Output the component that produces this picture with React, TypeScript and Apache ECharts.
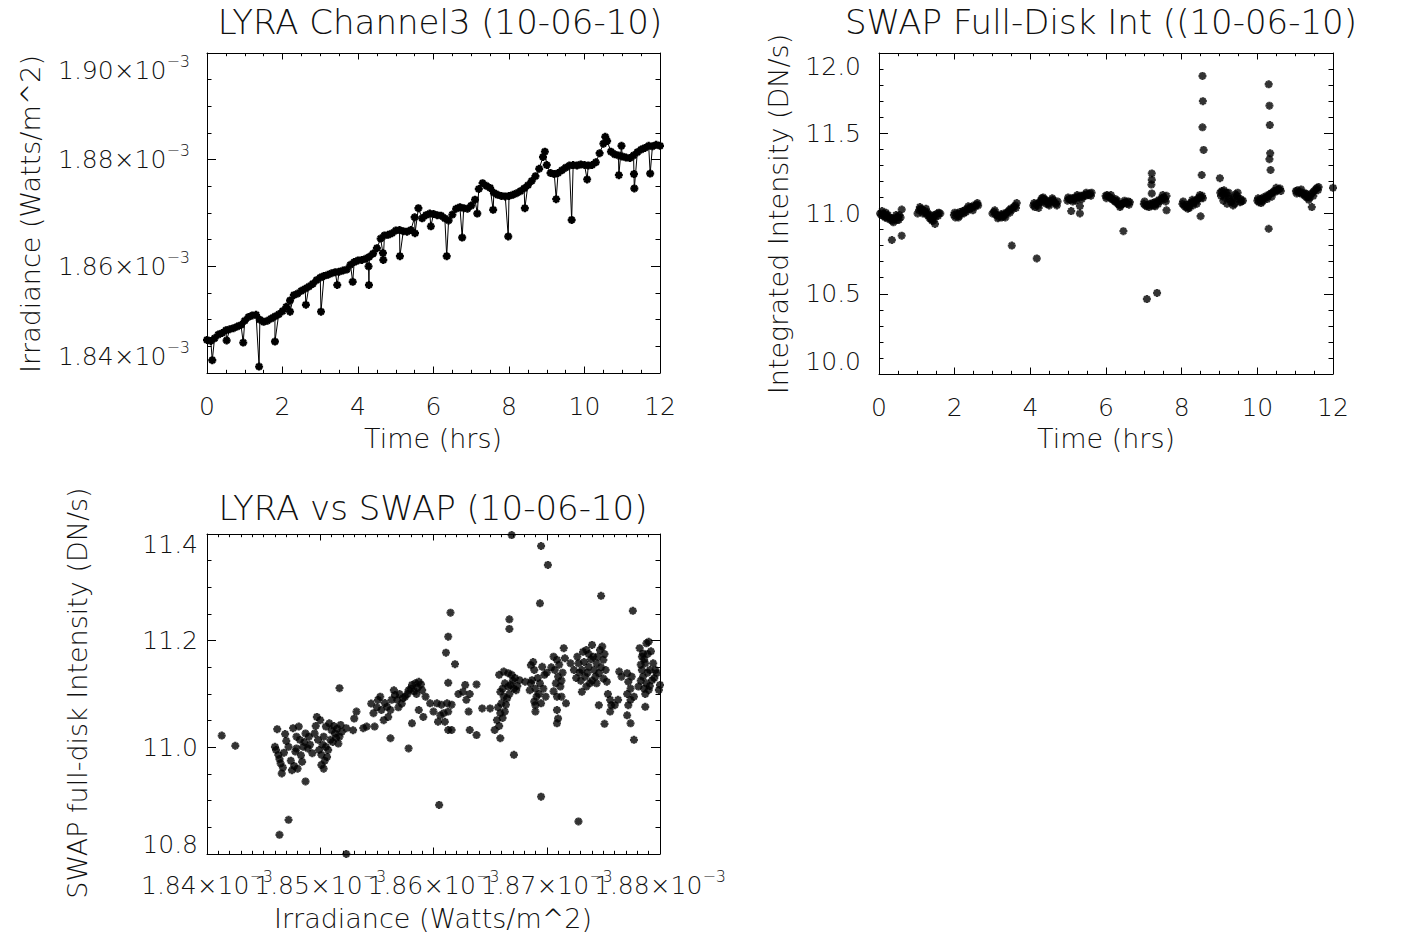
import React, { useEffect, useRef } from "react";
import * as echarts from "echarts";

// ---------- DATA ----------
// Panel 1: LYRA channel 3 irradiance (units of 1e-3 W/m^2) vs time (hrs)
const lyraTrend: [number, number][] = [
  [0.0, 1.8462], [0.1, 1.846], [0.2, 1.8465], [0.3, 1.8472], [0.4, 1.8475], [0.5, 1.848], [0.6, 1.8482], [0.7, 1.8484], [0.8, 1.8487], [0.9, 1.849],
  [1.0, 1.8498], [1.1, 1.8505], [1.2, 1.8508], [1.3, 1.8509], [1.4, 1.85], [1.5, 1.8496], [1.6, 1.8498], [1.7, 1.8502], [1.8, 1.8506], [1.9, 1.851],
  [2.0, 1.8516], [2.1, 1.8524], [2.2, 1.8536], [2.3, 1.8546], [2.4, 1.8549], [2.5, 1.8554], [2.6, 1.8558], [2.7, 1.8562], [2.8, 1.8567], [2.9, 1.8574],
  [3.0, 1.8579], [3.1, 1.8582], [3.2, 1.8584], [3.3, 1.8587], [3.4, 1.8589], [3.5, 1.859], [3.6, 1.8592], [3.7, 1.8594], [3.8, 1.8603], [3.9, 1.8608],
  [4.0, 1.8611], [4.1, 1.8612], [4.2, 1.8614], [4.3, 1.8618], [4.4, 1.8624], [4.5, 1.8634], [4.6, 1.8652], [4.7, 1.8658], [4.8, 1.8659], [4.9, 1.8662],
  [5.0, 1.8667], [5.1, 1.8668], [5.2, 1.8666], [5.3, 1.8665], [5.4, 1.8668], [5.5, 1.8692], [5.6, 1.8709], [5.7, 1.869], [5.8, 1.8696], [5.9, 1.8699],
  [6.0, 1.8698], [6.1, 1.8696], [6.2, 1.8695], [6.3, 1.869], [6.4, 1.8686], [6.5, 1.8697], [6.6, 1.8708], [6.7, 1.8711], [6.8, 1.8709], [6.9, 1.8708],
  [7.0, 1.8714], [7.1, 1.8725], [7.2, 1.8745], [7.3, 1.8756], [7.4, 1.8751], [7.5, 1.8747], [7.6, 1.8738], [7.7, 1.8734], [7.8, 1.8732], [7.9, 1.8731],
  [8.0, 1.8732], [8.1, 1.8734], [8.2, 1.8737], [8.3, 1.8741], [8.4, 1.8746], [8.5, 1.8752], [8.6, 1.876], [8.7, 1.8769], [8.8, 1.8783], [8.9, 1.8805], [8.95, 1.8815],
  [9.0, 1.879], [9.1, 1.8775], [9.2, 1.8773], [9.3, 1.8775], [9.4, 1.878], [9.5, 1.8785], [9.6, 1.8789], [9.7, 1.879], [9.8, 1.8789], [9.9, 1.8791],
  [10.0, 1.879], [10.1, 1.8789], [10.2, 1.879], [10.3, 1.8795], [10.4, 1.8812], [10.5, 1.883], [10.55, 1.8843], [10.6, 1.8835], [10.7, 1.8815], [10.8, 1.881], [10.9, 1.8808],
  [11.0, 1.8806], [11.1, 1.8804], [11.2, 1.8803], [11.3, 1.8808], [11.4, 1.8814], [11.5, 1.8819], [11.6, 1.8822], [11.7, 1.8826], [11.8, 1.8825], [11.9, 1.8828], [12.0, 1.8826],
];
const lyraDips: [number, number][] = [
  [0.14, 1.8424], [0.52, 1.8461], [0.96, 1.8457], [1.38, 1.8412], [1.8, 1.8459], [2.2, 1.8515], [2.62, 1.8528], [3.02, 1.8515],
  [3.45, 1.8565], [3.86, 1.8571], [4.28, 1.86], [4.29, 1.8565], [4.66, 1.8625], [4.67, 1.8612], [5.11, 1.8619], [5.51, 1.8662],
  [5.93, 1.8675], [6.35, 1.8619], [6.76, 1.8654], [7.16, 1.8699], [7.58, 1.8706], [7.98, 1.8656], [8.42, 1.8709], [9.25, 1.8726],
  [9.66, 1.8687], [10.07, 1.8763], [10.91, 1.8771], [10.98, 1.8826], [11.31, 1.8773], [11.32, 1.8746], [11.74, 1.8774],
];

// Panel 2: SWAP full-disk integrated intensity (DN/s) vs time (hrs)
const swapClusters: [number, number][] = [
  [0.03, 11.0], [0.06, 10.99], [0.1, 11.0], [0.12, 10.985], [0.15, 10.995], [0.18, 11.005], [0.2, 10.985], [0.24, 10.99], [0.27, 10.975], [0.3, 10.96], [0.33, 10.97], [0.36, 10.955], [0.4, 10.965], [0.44, 10.975], [0.47, 10.96], [0.5, 10.98], [0.54, 10.99], [0.57, 10.975],
  [1.02, 11.0], [1.06, 11.02], [1.1, 11.03], [1.14, 11.025], [1.18, 11.01], [1.22, 11.015], [1.26, 10.995], [1.3, 10.985], [1.34, 10.97], [1.38, 10.965], [1.42, 10.975], [1.46, 10.99], [1.5, 10.985], [1.54, 11.0], [1.58, 11.005], [1.62, 11.0], [1.28, 11.005], [1.4, 10.955],
  [1.98, 10.99], [2.02, 10.975], [2.06, 11.0], [2.1, 10.995], [2.14, 11.01], [2.18, 11.0], [2.22, 11.015], [2.26, 11.02], [2.3, 11.01], [2.34, 11.03], [2.38, 11.025], [2.42, 11.04], [2.46, 11.035], [2.5, 11.05], [2.54, 11.045], [2.58, 11.055], [2.62, 11.05], [2.1, 10.975],
  [3.0, 11.0], [3.04, 11.01], [3.08, 10.995], [3.12, 10.99], [3.16, 10.98], [3.2, 10.985], [3.24, 10.975], [3.28, 10.98], [3.32, 10.99], [3.36, 11.0], [3.4, 11.01], [3.44, 11.02], [3.48, 11.03], [3.52, 11.025], [3.56, 11.04], [3.6, 11.05], [3.64, 11.065], [3.3, 11.0],
  [4.08, 11.05], [4.12, 11.04], [4.16, 11.06], [4.2, 11.05], [4.24, 11.07], [4.28, 11.08], [4.32, 11.07], [4.36, 11.09], [4.4, 11.085], [4.44, 11.075], [4.48, 11.06], [4.52, 11.07], [4.56, 11.08], [4.6, 11.085], [4.64, 11.07], [4.68, 11.06], [4.72, 11.075], [4.3, 11.095], [4.5, 11.05],
  [4.98, 11.08], [5.02, 11.09], [5.06, 11.085], [5.1, 11.095], [5.14, 11.09], [5.18, 11.1], [5.22, 11.095], [5.26, 11.105], [5.3, 11.1], [5.34, 11.11], [5.38, 11.105], [5.42, 11.115], [5.46, 11.11], [5.5, 11.12], [5.54, 11.115], [5.58, 11.125], [5.62, 11.13], [5.2, 11.08],
  [5.99, 11.11], [6.03, 11.115], [6.07, 11.105], [6.11, 11.1], [6.15, 11.09], [6.19, 11.085], [6.23, 11.075], [6.27, 11.07], [6.31, 11.06], [6.35, 11.055], [6.39, 11.05], [6.43, 11.06], [6.47, 11.065], [6.51, 11.07], [6.55, 11.06], [6.59, 11.075], [6.63, 11.07], [6.3, 11.08],
  [7.0, 11.06], [7.04, 11.05], [7.08, 11.045], [7.12, 11.055], [7.16, 11.06], [7.2, 11.05], [7.24, 11.065], [7.28, 11.07], [7.32, 11.06], [7.36, 11.075], [7.4, 11.085], [7.44, 11.08], [7.48, 11.095], [7.52, 11.1], [7.56, 11.09], [7.6, 11.11], [7.3, 11.045],
  [8.02, 11.06], [8.06, 11.05], [8.1, 11.04], [8.14, 11.055], [8.18, 11.045], [8.22, 11.06], [8.26, 11.07], [8.3, 11.065], [8.34, 11.08], [8.38, 11.075], [8.42, 11.09], [8.46, 11.1], [8.5, 11.095], [8.54, 11.11], [8.2, 11.035], [8.3, 11.05],
  [9.02, 11.13], [9.06, 11.14], [9.1, 11.12], [9.14, 11.1], [9.18, 11.13], [9.22, 11.11], [9.26, 11.09], [9.3, 11.07], [9.34, 11.08], [9.38, 11.1], [9.42, 11.12], [9.46, 11.11], [9.5, 11.09], [9.54, 11.07], [9.58, 11.075], [9.62, 11.08], [9.2, 11.06], [9.4, 11.06], [9.1, 11.08],
  [10.0, 11.08], [10.04, 11.07], [10.08, 11.09], [10.12, 11.085], [10.16, 11.1], [10.2, 11.095], [10.24, 11.11], [10.28, 11.105], [10.32, 11.12], [10.36, 11.125], [10.4, 11.13], [10.44, 11.14], [10.48, 11.135], [10.52, 11.145], [10.56, 11.15], [10.6, 11.155], [10.1, 11.065],
  [11.02, 11.14], [11.06, 11.145], [11.1, 11.13], [11.14, 11.135], [11.18, 11.12], [11.22, 11.125], [11.26, 11.11], [11.3, 11.1], [11.34, 11.105], [11.38, 11.1], [11.42, 11.12], [11.46, 11.13], [11.5, 11.14], [11.54, 11.15], [11.58, 11.16], [11.62, 11.165], [11.3, 11.12],
  [12.0, 11.16],
];
const swapSpread: [number, number][] = [
  [0.08, 11.015], [0.22, 10.97], [0.38, 10.945], [0.45, 10.99], [0.52, 10.96], [0.16, 10.975],
  [1.08, 11.04], [1.16, 11.0], [1.24, 11.03], [1.36, 10.99], [1.44, 10.955], [1.56, 10.985],
  [2.0, 11.005], [2.12, 10.985], [2.24, 11.0], [2.36, 11.045], [2.48, 11.02], [2.6, 11.065],
  [3.06, 11.02], [3.14, 10.97], [3.22, 10.995], [3.34, 10.975], [3.46, 11.005], [3.62, 11.035],
  [4.1, 11.065], [4.22, 11.035], [4.34, 11.1], [4.42, 11.06], [4.58, 11.095], [4.7, 11.05],
  [5.0, 11.1], [5.12, 11.075], [5.24, 11.115], [5.36, 11.09], [5.48, 11.13], [5.6, 11.11],
  [6.01, 11.095], [6.13, 11.115], [6.25, 11.09], [6.37, 11.04], [6.49, 11.08], [6.61, 11.055],
  [7.02, 11.075], [7.14, 11.04], [7.26, 11.05], [7.38, 11.06], [7.5, 11.115], [7.58, 11.075],
  [8.04, 11.075], [8.16, 11.03], [8.28, 11.085], [8.4, 11.06], [8.48, 11.115], [8.56, 11.095],
  [9.04, 11.11], [9.12, 11.145], [9.24, 11.13], [9.36, 11.05], [9.48, 11.13], [9.56, 11.09],
  [10.02, 11.095], [10.14, 11.075], [10.26, 11.09], [10.38, 11.105], [10.5, 11.16], [10.62, 11.14],
  [11.04, 11.125], [11.16, 11.15], [11.28, 11.125], [11.36, 11.085], [11.48, 11.11], [11.6, 11.145],
];
const swapOutliers: [number, number][] = [
  [0.6, 11.025], [0.34, 10.835], [0.6, 10.862], [1.48, 10.935], [3.51, 10.8], [4.17, 10.72],
  [5.08, 11.015], [5.31, 11.0], [5.31, 11.046], [6.46, 10.89],
  [7.21, 11.25], [7.21, 11.21], [7.2, 11.18], [7.21, 11.125], [7.6, 11.02], [7.08, 10.467], [7.35, 10.505],
  [8.53, 11.24], [8.5, 10.983], [8.55, 11.857], [8.56, 11.7], [8.55, 11.537], [8.58, 11.396],
  [9.01, 11.22], [10.3, 11.805], [10.32, 11.672], [10.33, 11.551], [10.34, 11.375], [10.32, 11.338], [10.35, 11.271], [10.3, 10.905],
  [11.44, 11.04],
];

// Panel 3: LYRA irradiance (1e-3 W/m^2) vs SWAP intensity (DN/s)
const lyraVsSwap: [number, number][] = [
  [1.8413, 11.022], [1.8425, 11.003],
  [1.8462, 11.034], [1.846, 11.001], [1.8463, 10.986], [1.8465, 10.97], [1.8466, 10.951], [1.8475, 10.957], [1.8472, 11.001], [1.8476, 11.036], [1.8481, 11.039], [1.8478, 10.992], [1.8482, 11.014], [1.8485, 11.001], [1.8484, 10.973], [1.8487, 11.026], [1.849, 11.02], [1.8487, 10.936], [1.8493, 10.989],
  [1.8461, 10.995], [1.8464, 10.978], [1.8468, 10.99], [1.847, 11.012], [1.8474, 10.975], [1.8479, 11.02], [1.848, 10.96], [1.8483, 10.985], [1.8486, 11.01], [1.8489, 10.998], [1.8491, 11.005], [1.8467, 10.962], [1.8469, 11.025], [1.8477, 10.965], [1.8479, 10.998],
  [1.8464, 10.836], [1.8472, 10.864],
  [1.8497, 11.057], [1.85, 11.051], [1.8495, 11.026], [1.8503, 11.02], [1.8505, 11.001], [1.8501, 10.986], [1.8506, 10.982], [1.8509, 11.014], [1.8513, 11.026], [1.8518, 11.042], [1.8519, 11.029], [1.8516, 11.007], [1.851, 11.032], [1.8501, 10.967], [1.8505, 11.039], [1.8498, 11.014],
  [1.8499, 10.995], [1.8502, 11.005], [1.8504, 10.975], [1.8507, 10.995], [1.8508, 11.045], [1.8511, 11.01], [1.8512, 11.04], [1.8514, 11.018], [1.8496, 11.04], [1.8503, 10.96], [1.8515, 11.035], [1.8517, 11.02],
  [1.8517, 11.111], [1.8523, 11.036], [1.8529, 11.032], [1.8532, 11.067], [1.853, 11.054], [1.8538, 11.036], [1.8541, 11.039], [1.8562, 11.017], [1.8578, 10.998], [1.8581, 11.045], [1.8523, 10.8],
  [1.8545, 11.082], [1.8547, 11.064], [1.8551, 11.089], [1.8553, 11.095], [1.8548, 11.039], [1.8554, 11.07], [1.8559, 11.076], [1.856, 11.057], [1.8565, 11.107], [1.8568, 11.089], [1.8572, 11.082], [1.8575, 11.095], [1.8578, 11.107], [1.8581, 11.117], [1.8584, 11.12], [1.8587, 11.123], [1.859, 11.107], [1.8593, 11.095], [1.8587, 11.07], [1.8591, 11.057], [1.8556, 11.051], [1.8563, 11.089],
  [1.855, 11.075], [1.8557, 11.083], [1.8562, 11.07], [1.8566, 11.098], [1.857, 11.1], [1.8573, 11.092], [1.8577, 11.1], [1.858, 11.11], [1.8583, 11.105], [1.8586, 11.112], [1.8589, 11.118], [1.8585, 11.1], [1.8569, 11.075],
  [1.8597, 11.0825], [1.86, 11.067], [1.8603, 11.0825], [1.8604, 11.048], [1.861, 11.048], [1.8613, 11.0325], [1.8616, 11.0325], [1.8613, 11.067], [1.8616, 11.08], [1.8612, 11.0825], [1.8609, 11.064], [1.8607, 11.08], [1.8606, 11.06],
  [1.8615, 11.2525], [1.8613, 11.2075], [1.8611, 11.1775], [1.8619, 11.156], [1.8613, 11.121], [1.8605, 10.892],
  [1.8622, 11.1], [1.8626, 11.104], [1.8629, 11.089], [1.8632, 11.1], [1.8628, 11.117], [1.8631, 11.067], [1.8632, 11.0325], [1.8638, 11.023], [1.8638, 11.118], [1.8643, 11.073], [1.865, 11.073],
  [1.8654, 11.0325], [1.8656, 11.051], [1.8659, 11.064], [1.8659, 11.104], [1.866, 11.0825], [1.8662, 11.095], [1.8663, 11.067], [1.8658, 11.136], [1.8662, 11.142], [1.8666, 11.139], [1.8669, 11.136], [1.8668, 11.117], [1.8665, 11.092], [1.8666, 11.114], [1.8671, 11.11], [1.8673, 11.107], [1.8676, 11.126], [1.8681, 11.123], [1.8659, 11.017], [1.8671, 10.986],
  [1.8657, 11.075], [1.8661, 11.055], [1.8664, 11.08], [1.8667, 11.1], [1.867, 11.125], [1.8672, 11.13], [1.8674, 11.115], [1.8658, 11.04], [1.8663, 11.12], [1.8661, 11.11],
  [1.8669, 11.398], [1.8667, 11.24], [1.8667, 11.222],
  [1.8686, 11.154], [1.8689, 11.145], [1.8687, 11.126], [1.869, 11.11], [1.8693, 11.1], [1.8696, 11.151], [1.8698, 11.136], [1.8695, 11.0825], [1.8689, 11.086], [1.8685, 11.107], [1.869, 11.067], [1.869, 11.079],
  [1.8688, 11.16], [1.8692, 11.13], [1.8694, 11.12], [1.8697, 11.11], [1.8699, 11.095], [1.8691, 11.095], [1.8686, 11.12], [1.87, 11.14],
  [1.8695, 11.3775], [1.8701, 11.342], [1.8694, 11.27], [1.8695, 10.9075],
  [1.8706, 11.17], [1.8709, 11.164], [1.8707, 11.145], [1.871, 11.1325], [1.8712, 11.114], [1.8709, 11.095], [1.8713, 11.095], [1.8715, 11.186], [1.8716, 11.167], [1.8717, 11.0825], [1.8709, 11.07], [1.871, 11.054], [1.8709, 11.045],
  [1.8704, 11.15], [1.8708, 11.12], [1.8711, 11.155], [1.8714, 11.14], [1.8713, 11.125], [1.8706, 11.105],
  [1.8727, 11.17], [1.8732, 11.179], [1.8735, 11.1825], [1.8728, 11.1575], [1.8731, 11.145], [1.8734, 11.1325], [1.8737, 11.151], [1.874, 11.192], [1.8741, 11.17], [1.8744, 11.1575], [1.8747, 11.1825], [1.8749, 11.189], [1.8746, 11.139], [1.8743, 11.1325], [1.8738, 11.12], [1.8735, 11.114], [1.8731, 11.104], [1.8724, 11.145], [1.8721, 11.1575], [1.875, 11.164], [1.8752, 11.145], [1.875, 11.129], [1.8753, 11.123], [1.8744, 11.12],
  [1.8726, 11.13], [1.8729, 11.14], [1.8733, 11.16], [1.8736, 11.14], [1.8739, 11.165], [1.8742, 11.145], [1.8745, 11.17], [1.8748, 11.15], [1.874, 11.125], [1.873, 11.125], [1.8737, 11.175], [1.8751, 11.175],
  [1.8748, 11.284], [1.8746, 11.079], [1.8751, 11.044], [1.8728, 10.861],
  [1.8754, 11.1], [1.8756, 11.089], [1.8757, 11.079], [1.8756, 11.067], [1.876, 11.079], [1.8763, 11.089], [1.8766, 11.1325], [1.8764, 11.142],
  [1.8771, 11.139], [1.8772, 11.123], [1.8774, 11.11], [1.8771, 11.1], [1.8774, 11.089], [1.8772, 11.079], [1.8775, 11.1325], [1.8777, 11.095], [1.8771, 11.06], [1.8774, 11.045], [1.8777, 11.014],
  [1.8782, 11.186], [1.8785, 11.176], [1.8788, 11.195], [1.879, 11.198], [1.8787, 11.1575], [1.8784, 11.145], [1.8785, 11.1325], [1.8788, 11.12], [1.8791, 11.145], [1.8793, 11.126], [1.879, 11.1075], [1.8787, 11.1], [1.8794, 11.1575], [1.8797, 11.139], [1.88, 11.117], [1.8799, 11.1075], [1.8784, 11.17], [1.8781, 11.114], [1.8787, 11.076],
  [1.8786, 11.165], [1.8789, 11.175], [1.8792, 11.18], [1.8783, 11.155], [1.8789, 11.14], [1.8795, 11.13], [1.8791, 11.115], [1.8783, 11.125], [1.8796, 11.145], [1.8786, 11.11],
  [1.8776, 11.256],
];

// ---------- STYLE ----------
const FONT = "DejaVu Sans";
const INK = "#000";
const TXT = "#111";
const STAR =
  "path://M3.5,0 L6.5,0 L6.5,10 L3.5,10 Z M0,3.5 L10,3.5 L10,6.5 L0,6.5 Z M0.5,2.5 L2.5,0.5 L9.5,7.5 L7.5,9.5 Z M7.5,0.5 L9.5,2.5 L2.5,9.5 L0.5,7.5 Z";
const MARK = 8;

const richSci = {
  a: { fontSize: 25, lineHeight: 34, fontFamily: FONT, color: TXT, fontWeight: 300 },
  b: { fontSize: 16, lineHeight: 16, fontFamily: FONT, color: TXT, verticalAlign: "top", fontWeight: 300 },
};
const sciFmt = (v: number) => `{a|${v.toFixed(2)}×10}{b|−3}`;
// split the crowded irradiance labels into two alternating sets so none is dropped
const isEvenStep = (v: number) => Math.round(v * 100) % 2 === 0;

const AX_LINE = { show: true, onZero: false, lineStyle: { color: INK, width: 1 } };

function xPair(gridIndex: number, min: number, max: number, interval: number, minorSplit: number, label: any) {
  const common = {
    type: "value",
    gridIndex,
    min,
    max,
    interval,
    axisLine: AX_LINE,
    axisTick: { show: true, inside: true, length: 6.5, lineStyle: { color: INK, width: 1 } },
    minorTick: { show: true, splitNumber: minorSplit, length: 3.2, lineStyle: { color: INK, width: 1 } },
    splitLine: { show: false },
    minorSplitLine: { show: false },
  };
  return [
    { ...common, position: "bottom", axisLabel: label },
    { ...common, position: "top", axisLabel: { show: false } },
  ];
}
function yPair(gridIndex: number, min: number, max: number, interval: number, minorSplit: number, label: any) {
  const common = {
    type: "value",
    gridIndex,
    min,
    max,
    interval,
    axisLine: AX_LINE,
    axisTick: { show: true, inside: true, length: 9, lineStyle: { color: INK, width: 1 } },
    minorTick: { show: true, splitNumber: minorSplit, length: 4.5, lineStyle: { color: INK, width: 1 } },
    splitLine: { show: false },
    minorSplitLine: { show: false },
  };
  return [
    { ...common, position: "left", axisLabel: label },
    { ...common, position: "right", axisLabel: { show: false } },
  ];
}

function txt(text: string, x: number, y: number, size: number, vertical = false) {
  return {
    type: "text",
    x,
    y,
    rotation: vertical ? Math.PI / 2 : 0,
    silent: true,
    style: {
      text,
      fill: TXT,
      fontSize: size,
      fontFamily: FONT,
      fontWeight: 300,
      align: "center",
      verticalAlign: "middle",
      textAlign: "center",
      textVerticalAlign: "middle",
    },
  };
}

export default function App() {
  const ref = useRef<HTMLDivElement>(null);
  useEffect(() => {
    document.body.style.margin = "0";
    if (!ref.current) return;
    const chart = echarts.init(ref.current, undefined, { renderer: "svg" });

    const lyraSeries = [...lyraTrend, ...lyraDips].sort((p, q) => p[0] - q[0]);

    const plainLabel = (fmt: (v: number) => string, margin: number) => ({
      show: true,
      margin,
      formatter: fmt,
      fontSize: 25,
      lineHeight: 26,
      fontFamily: FONT,
      fontWeight: 300,
      color: TXT,
      showMinLabel: true,
      showMaxLabel: true,
      hideOverlap: false,
    });

    const sciX = (even: boolean) => ({
      show: true,
      margin: 14,
      formatter: (v: number) => (isEvenStep(v) === even ? sciFmt(v) : ""),
      rich: richSci,
      showMinLabel: true,
      showMaxLabel: true,
      hideOverlap: false,
    });

    const p3x = xPair(2, 1.84, 1.88, 0.01, 10, sciX(true));
    const p3xOdd = {
      ...p3x[0],
      axisLine: { show: false, onZero: false },
      axisTick: { show: false },
      minorTick: { show: false },
      axisLabel: sciX(false),
    };

    const option: any = {
      animation: false,
      backgroundColor: "#fff",
      grid: [
        { left: 207, top: 53, width: 453, height: 320 },
        { left: 879, top: 53, width: 454, height: 321 },
        { left: 207, top: 534, width: 453, height: 320 },
      ],
      xAxis: [
        ...xPair(0, 0, 12, 2, 4, plainLabel((v) => String(v), 20)),
        ...xPair(1, 0, 12, 2, 4, plainLabel((v) => String(v), 20)),
        ...p3x,
        p3xOdd,
      ],
      yAxis: [
        ...yPair(0, 1.84, 1.9, 0.02, 4, {
          show: true,
          margin: 17,
          formatter: sciFmt,
          rich: richSci,
          showMinLabel: true,
          showMaxLabel: true,
          verticalAlignMinLabel: "bottom",
          verticalAlignMaxLabel: "top",
        }),
        ...yPair(1, 10, 12, 0.5, 5, {
          ...plainLabel((v) => v.toFixed(1), 18),
          verticalAlignMinLabel: "bottom",
          verticalAlignMaxLabel: "top",
        }),
        ...yPair(2, 10.8, 11.4, 0.2, 4, {
          ...plainLabel((v) => v.toFixed(1), 9),
          lineHeight: 20,
          verticalAlignMinLabel: "bottom",
          verticalAlignMaxLabel: "top",
        }),
      ],
      series: [
        {
          type: "line",
          xAxisIndex: 0,
          yAxisIndex: 0,
          data: lyraSeries,
          symbol: STAR,
          symbolSize: MARK,
          showSymbol: true,
          showAllSymbol: true,
          lineStyle: { color: INK, width: 1 },
          itemStyle: { color: INK },
          silent: true,
        },
        {
          type: "scatter",
          xAxisIndex: 2,
          yAxisIndex: 2,
          data: [...swapClusters, ...swapSpread, ...swapOutliers],
          symbol: STAR,
          symbolSize: MARK,
          itemStyle: { color: INK },
          silent: true,
        },
        {
          type: "scatter",
          xAxisIndex: 4,
          yAxisIndex: 4,
          data: lyraVsSwap,
          symbol: STAR,
          symbolSize: MARK,
          itemStyle: { color: INK },
          silent: true,
        },
      ],
      graphic: [
        txt("LYRA Channel3 (10-06-10)", 440, 22, 34),
        txt("SWAP Full-Disk Int ((10-06-10)", 1101, 22, 34),
        txt("LYRA vs SWAP (10-06-10)", 433, 508, 34),
        txt("Irradiance (Watts/m^2)", 30, 214, 27, true),
        txt("Time (hrs)", 433, 438, 27),
        txt("Integrated Intensity (DN/s)", 778, 214, 27, true),
        txt("Time (hrs)", 1106, 438, 27),
        txt("SWAP full-disk Intensity (DN/s)", 77, 693, 27, true),
        txt("Irradiance (Watts/m^2)", 433, 918, 27),
      ],
    };
    chart.setOption(option);
    return () => chart.dispose();
  }, []);
  return <div ref={ref} style={{ width: 1414, height: 939 }} />;
}
